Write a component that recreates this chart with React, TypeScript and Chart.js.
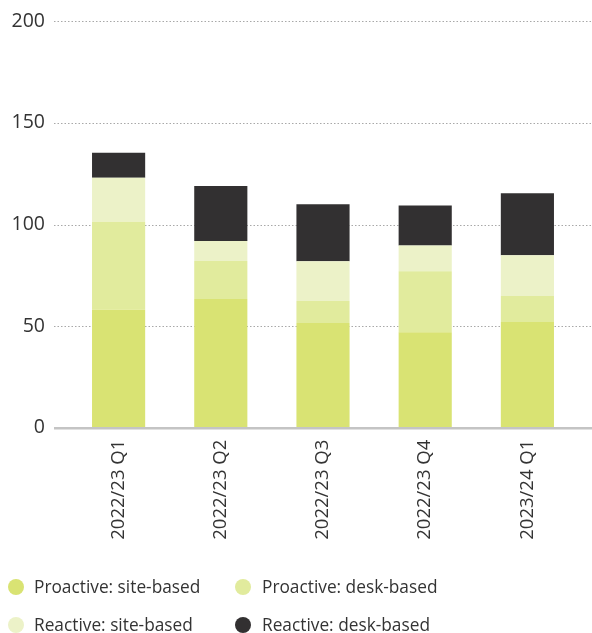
import React, { useEffect, useRef } from "react";
import { Chart, registerables } from "chart.js";

Chart.register(...registerables);

const categories = ["2022/23 Q1", "2022/23 Q2", "2022/23 Q3", "2022/23 Q4", "2023/24 Q1"];
const proactiveSite = [58, 63.3, 51.5, 47, 52];
const proactiveDesk = [43.3, 18.7, 10.8, 30, 12.8];
const reactiveSite = [21.7, 9.9, 19.6, 12.7, 20.1];
const reactiveDesk = [12.3, 27.1, 28.1, 19.7, 30.5];
const yTicks = [0, 50, 100, 150, 200];

const seriesNames = [
  "Proactive: site-based",
  "Proactive: desk-based",
  "Reactive: site-based",
  "Reactive: desk-based",
];
const colors = ["#d9e373", "#e1eb9d", "#ecf2c8", "#323031"];

const FONT = "'Open Sans', sans-serif";
const TEXT = "#333333";

const gridPlugin = {
  id: "customGrid",
  beforeDatasetsDraw(chart: any) {
    const { ctx } = chart;
    const y = chart.scales.y;
    ctx.save();
    ctx.strokeStyle = "#a8a8a8";
    ctx.lineWidth = 1;
    ctx.setLineDash([1.5, 2]);
    yTicks.forEach((v) => {
      if (v === 0) return;
      const py = Math.round(y.getPixelForValue(v)) + 0.5;
      ctx.beginPath();
      ctx.moveTo(54, py);
      ctx.lineTo(chart.width, py);
      ctx.stroke();
    });
    ctx.restore();
  },
  afterDatasetsDraw(chart: any) {
    const { ctx } = chart;
    const y = chart.scales.y;
    const py = y.getPixelForValue(0);
    ctx.save();
    ctx.strokeStyle = "#c4c4c4";
    ctx.lineWidth = 2.5;
    ctx.beginPath();
    ctx.moveTo(54, py + 0.5);
    ctx.lineTo(chart.width, py + 0.5);
    ctx.stroke();
    ctx.restore();
  },
};

export default function App() {
  const ref = useRef<HTMLCanvasElement>(null);

  useEffect(() => {
    if (!ref.current) return;
    const chart = new Chart(ref.current, {
      type: "bar",
      data: {
        labels: categories,
        datasets: [proactiveSite, proactiveDesk, reactiveSite, reactiveDesk].map((d, i) => ({
          label: seriesNames[i],
          data: d,
          backgroundColor: colors[i],
          borderWidth: 0,
          barPercentage: 0.52,
          categoryPercentage: 1,
        })),
      },
      options: {
        animation: false,
        responsive: false,
        maintainAspectRatio: false,
        layout: { padding: { top: 21.3, right: 13.5, left: 0, bottom: 0 } },
        plugins: { legend: { display: false }, tooltip: { enabled: false } },
        scales: {
          x: {
            stacked: true,
            grid: { display: false, drawTicks: false },
            border: { display: false },
            ticks: {
              color: TEXT,
              font: { family: FONT, size: 18.5 },
              minRotation: 90,
              maxRotation: 90,
              padding: 12,
              autoSkip: false,
            },
            afterFit: (s: any) => {
              s.height = 633 - 427.7;
              s.paddingLeft = 0;
              s.paddingRight = 0;
            },
          },
          y: {
            stacked: true,
            min: 0,
            max: 200,
            grid: { display: false, drawTicks: false },
            border: { display: false },
            ticks: {
              stepSize: 50,
              color: TEXT,
              font: { family: FONT, size: 19.5 },
              padding: 22.5,
            },
            afterFit: (s: any) => {
              s.width = 67.5;
              s.paddingTop = 0;
              s.paddingBottom = 0;
            },
          },
        },
      },
      plugins: [gridPlugin],
    });
    return () => chart.destroy();
  }, []);

  const legendPos = [
    { cx: 15.5, cy: 587, tx: 34 },
    { cx: 242.5, cy: 587, tx: 262 },
    { cx: 15.5, cy: 624.5, tx: 34 },
    { cx: 242.5, cy: 624.5, tx: 262 },
  ];

  return (
    <div style={{ position: "fixed", left: 0, top: 0, width: 592, height: 633, overflow: "hidden", background: "#fff" }}>
      <canvas ref={ref} width={592} height={633} style={{ position: "absolute", left: 0, top: 0 }} />
      {seriesNames.map((n, i) => (
        <React.Fragment key={n}>
          <div
            style={{
              position: "absolute",
              left: legendPos[i].cx - 8,
              top: legendPos[i].cy - 8,
              width: 16,
              height: 16,
              borderRadius: "50%",
              background: colors[i],
            }}
          />
          <div
            style={{
              position: "absolute",
              left: legendPos[i].tx,
              top: legendPos[i].cy - 13,
              height: 26,
              lineHeight: "26px",
              fontFamily: FONT,
              fontSize: 17.3,
              color: TEXT,
              whiteSpace: "nowrap",
            }}
          >
            {n}
          </div>
        </React.Fragment>
      ))}
    </div>
  );
}
